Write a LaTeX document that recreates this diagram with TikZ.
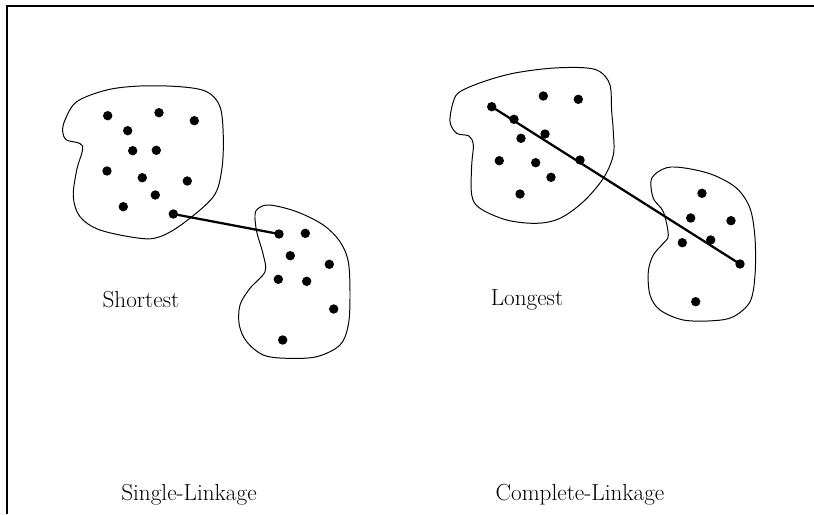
\documentclass[tikz,border=0pt]{standalone}
\usetikzlibrary{calc}

\tikzset{
  pt/.style={circle, fill=black, inner sep=0pt, minimum size=2.35mm},
  blob/.style={black, line width=0.7pt},
  link/.style={black, line width=1.6pt, shorten <=-1pt, shorten >=-1pt},
  lbl/.style={font=\fontsize{16.5}{19}\selectfont, text=black}
}

\begin{document}
\begin{tikzpicture}[x=0.025cm, y=-0.025cm]

% page extent
\useasboundingbox (0,0) rectangle (814,514);

% frame (top and left only)
\draw[line width=0.9pt] (7,514) -- (7,6) -- (814,6);

% ================================================================
% LEFT: single linkage
% ================================================================
\draw[blob] plot[smooth cycle, tension=0.55] coordinates {
  (65,120) (76.7,101.7) (106.7,90) (140,86) (180,86.7) (206.7,91.7)
  (220,106.7) (223.3,136.7) (221.7,170) (213.3,196.7) (183.3,223.3)
  (160,236.7) (140,238.3) (100,230) (80,216.7) (73.3,196.7)
  (76.7,170) (82.5,146) (66.7,140) (62.7,131.7)};

\draw[blob] plot[smooth cycle, tension=0.55] coordinates {
  (258.3,208.3) (270,205) (296.7,211.7) (323.3,225) (340,241.7)
  (348.3,261.7) (350,295) (348.3,325) (340,345) (316.7,356.7)
  (286.7,358.3) (263.3,355) (246.7,341.7) (239.3,325) (240,305)
  (250,288.3) (265,271.7) (263.3,255) (256.7,231.7) (255,215)};

% points of cluster A
\foreach \px/\py [count=\i] in {107.7/115.7, 159/112.7, 194.3/120.7,
    127.7/130.7, 132.7/150.7, 156.3/150.3, 107/171, 142.3/177.7,
    187.3/181, 155.3/195, 123.3/206.7, 173.3/214}
  \node[pt] (a\i) at (\px,\py) {};

% points of cluster B
\foreach \px/\py [count=\i] in {279/234, 305.3/233.3, 290.3/255.7,
    329.3/264.3, 278.3/279.3, 306.7/281.3, 333.7/309, 282.7/340}
  \node[pt] (b\i) at (\px,\py) {};

\draw[link] (a12.center) -- (b1.center);

\node[lbl] (shortest) at (141,300) {Shortest};
\node[lbl] (single) at (189,495) {Single-Linkage};

% ================================================================
% RIGHT: complete linkage
% ================================================================
\draw[blob] plot[smooth cycle, tension=0.55] coordinates {
  (460,91.7) (483.3,81.7) (513.3,73.3) (550,68.3) (583.3,67.7)
  (600,71.7) (610,85) (611.7,111.7) (613.3,131.7) (613.3,155)
  (603.3,178.3) (583.3,201.7) (560,218.3) (536.7,223.3) (506.7,220)
  (480,208.3) (471.7,195) (471.7,165) (473.3,145) (469,136)
  (456.7,133.3) (450,121.7) (453.3,101.7)};

\draw[blob] plot[smooth cycle, tension=0.55] coordinates {
  (666.7,167.7) (686.7,168.3) (713.3,175) (736.7,188.3) (750,208.3)
  (755,238.3) (755,275) (750,301.7) (733.3,316.7) (713.3,320.7)
  (683.3,320) (660,310) (650,295) (648.3,271.7) (653.3,255)
  (663.3,243.3) (668.3,235) (663.3,211.7) (653.3,198.3) (651.7,178.3)};

% points of cluster C
\foreach \px/\py [count=\i] in {491.7/106.7, 543.3/96, 578.3/99.3,
    514/119.3, 545/134, 521/138.3, 580/160, 499.3/160.7,
    535.7/162.7, 551/177.3, 520/194}
  \node[pt] (c\i) at (\px,\py) {};

% points of cluster D
\foreach \px/\py [count=\i] in {702/193.3, 690.7/218, 731/220.7,
    710.7/240, 682.3/242.7, 740/264, 695.7/301.7}
  \node[pt] (d\i) at (\px,\py) {};

\draw[link] (c1.center) -- (d6.center);

\node[lbl] (longest) at (527,300) {Longest};
\node[lbl] (complete) at (580,495) {Complete-Linkage};

\end{tikzpicture}
\end{document}
